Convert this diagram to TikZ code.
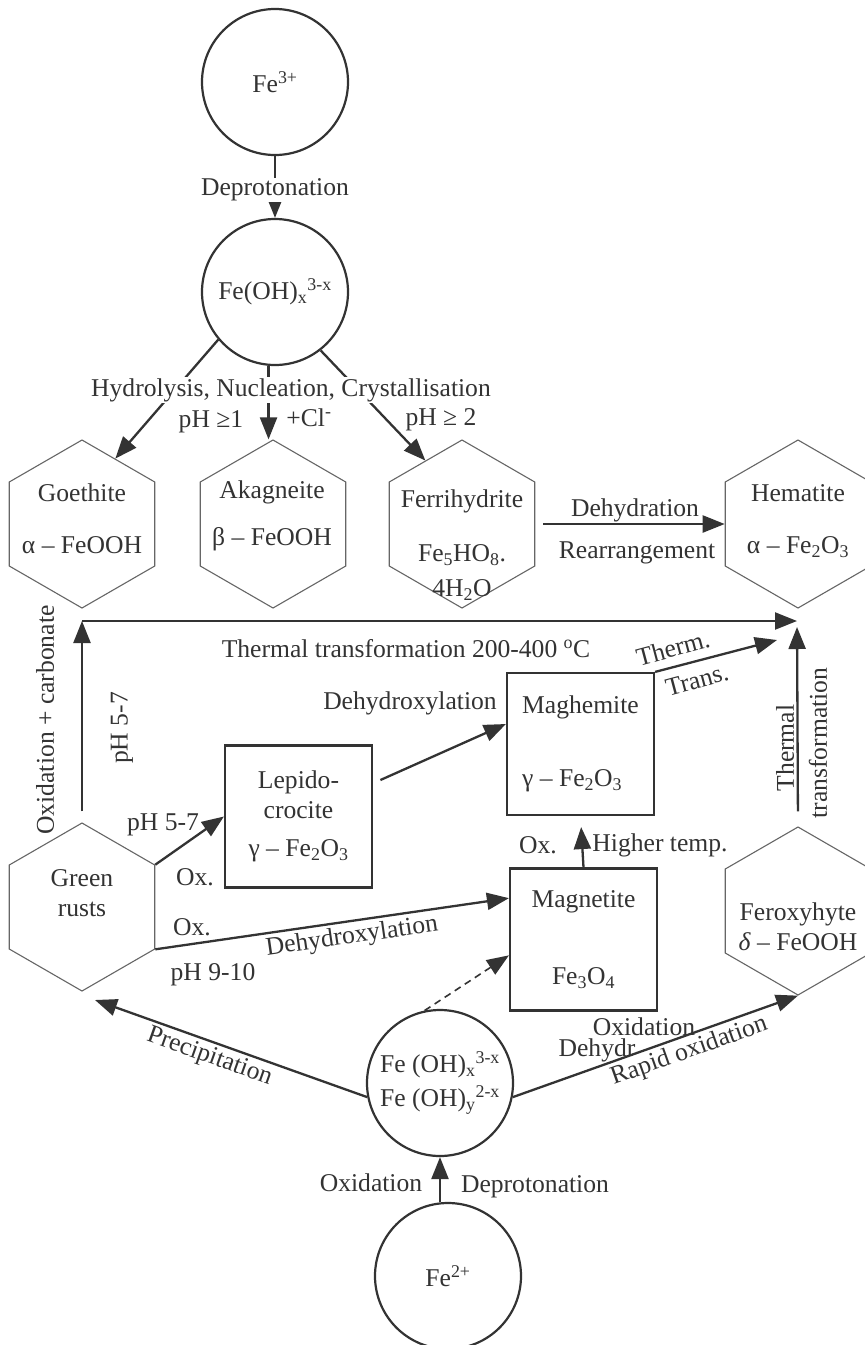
\documentclass[tikz,border=0pt]{standalone}
\usepackage{fontspec}
\setmainfont{Liberation Serif}
\usetikzlibrary{arrows.meta,shapes.geometric}
\definecolor{ink}{gray}{0.2}
\begin{document}
\begin{tikzpicture}[x=1pt, y=-1pt, every node/.style={font=\fontsize{25.6}{30}\selectfont, text=ink},
  ion/.style={draw=ink, line width=2.2pt, circle, minimum size=146pt, inner sep=0pt, align=center},
  hexa/.style={draw=black!60, line width=1.1pt, regular polygon, regular polygon sides=6, shape border rotate=30, minimum size=168pt, inner sep=0pt},
  oxbox/.style={draw=ink, line width=2.2pt, rectangle, minimum width=147pt, minimum height=142pt, inner sep=0pt},
  arr/.style={draw=ink, line width=2.3pt, -{Triangle[length=22pt,width=17pt]}},
  lbl/.style={fill=white, inner sep=1pt}]
\clip (0,0) rectangle (865,1345);
\fill[white] (0,0) rectangle (865,1345);
% iron species
\node[ion] (fe3) at (275,82) {Fe\textsuperscript{3+}};
\node[ion] (fohx) at (275,292) {Fe(OH)\textsubscript{x}\textsuperscript{3-x}};
\node[ion] (fohy) at (440,1083) {Fe (OH)\textsubscript{x}\textsuperscript{3-x}\\[4pt]Fe (OH)\textsubscript{y}\textsuperscript{2-x}};
\node[ion] (fe2) at (448,1276) {Fe\textsuperscript{2+}};
% oxyhydroxides
\node[hexa] (goe) at (82,524) {};
\node[hexa] (aka) at (273,524) {};
\node[hexa] (fer) at (462,524) {};
\node[hexa] (hem) at (798,524) {};
\node[hexa] (gr) at (82,907) {};
\node[hexa] (fex) at (798,911) {};
\node[align=center] (goetxt) at (82,519) {Goethite\\[22pt]α – FeOOH};
\node[align=center] (akatxt) at (272,516) {Akagneite\\[17pt]β – FeOOH};
\node[align=center] (fertxt) at (462,545) {Ferrihydrite\\[24pt]Fe\textsubscript{5}HO\textsubscript{8}.\\[5pt]4H\textsubscript{2}O};
\node[align=center] (hemtxt) at (798,521) {Hematite\\[22pt]α – Fe\textsubscript{2}O\textsubscript{3}};
\node[align=center] (grtxt) at (82,893) {Green\\rusts};
\node[align=center] (fextxt) at (798,927) {Feroxyhyte\\\textit{δ} – FeOOH};
% oxides
\node[oxbox, align=center] (lep) at (298.5,816.5) {Lepido-\\crocite\\[8pt]γ – Fe\textsubscript{2}O\textsubscript{3}};
\node[oxbox, align=left] (mgh) at (580.5,744) {Maghemite\\[43pt]γ – Fe\textsubscript{2}O\textsubscript{3}};
\node[oxbox, align=center] (mgt) at (583.5,939.5) {Magnetite\\[47pt]Fe\textsubscript{3}O\textsubscript{4}};
\coordinate (corner) at (82,621);
\coordinate (hemin) at (797,621);
\coordinate (thermtip) at (777,640);
\coordinate (prectip) at (95,1000);
% transformations
\draw[arr] (fe3) -- (fohx) node[pos=0.55, lbl] (dep) {Deprotonation};
\draw[arr] (fohx.-140) -- (goe.63);
\draw[arr] (fohx.-95) -- (fohx.-95 |- aka.90);
\draw[arr] (fohx.-52) -- (fer.120);
\node[lbl] (hyd) at (291,390) {Hydrolysis, Nucleation, Crystallisation};
\node[lbl] (ph1) at (211,422) {pH ≥1};
\node[lbl] (cl) at (309,418) {+Cl\textsuperscript{-}};
\node[lbl] (ph2) at (441,420) {pH ≥ 2};
\draw[arr, shorten <=8pt] (fer.0) -- (hem.180);
\node (dehyd) at (635,510) {Dehydration};
\node (rearr) at (637,553) {Rearrangement};
\draw[arr, shorten <=11pt] (gr.90) -- (corner);
\draw[arr] (corner) -- (hemin);
\node (thermal) at (406,649) {Thermal transformation 200-400 \textsuperscript{o}C};
\node[rotate=90] (oxcarb) at (45,720) {Oxidation + carbonate};
\node[rotate=90] (ph57a) at (122,728) {pH 5-7};
\draw[arr] (gr.30) -- (lep.west);
\node (ph57b) at (163,825) {pH 5-7};
\node (ox1) at (195,877) {Ox.};
\node (ox2) at (192,927) {Ox.};
\node (ph910) at (213,975) {pH 9-10};
\draw[arr] (gr.-30) -- (mgt.151) node[pos=0.55, sloped, below] (dhx1) {Dehydroxylation};
\draw[arr, shorten <=8pt] (lep.24) -- (mgh.165);
\node (dhx2) at (410,703) {Dehydroxylation};
\draw[arr] (mgh.north east) -- (thermtip);
\node[rotate=15] (therm) at (673,648) {Therm.};
\node[rotate=15] (trans) at (697,680) {Trans.};
\draw[arr, shorten <=15pt, shorten >=6pt] (fex.90) -- (hemin);
\node[rotate=90] (thm) at (785,748) {Thermal};
\node[rotate=90] (tfm) at (818,743) {transformation};
\draw[arr, shorten >=11pt] (mgt.north) -- (mgh.south);
\node (oxb) at (538,845) {Ox.};
\node (higher) at (660,845) {Higher temp.};
\draw[arr, dash pattern=on 7pt off 5pt, line width=1.6pt] (fohy.102) -- (mgt.192);
\draw[draw=ink, line width=2.3pt, {Triangle[length=22pt,width=17pt]}-] (prectip) -- (fohy.191) node[pos=0.44, sloped, below] (precip) {Precipitation};
\draw[arr] (fohy.-11) -- (fex.-90) node[pos=0.6, sloped, below] (rapid) {Rapid oxidation};
\node (oxid) at (644,1027) {Oxidation};
\node (dehydr) at (597,1050) {Dehydr};
\draw[arr] (fohy |- fe2.north) -- (fohy.south);
\node (oxbot) at (371,1183) {Oxidation};
\node (depbot) at (535,1187) {Deprotonation};
\end{tikzpicture}
\end{document}
